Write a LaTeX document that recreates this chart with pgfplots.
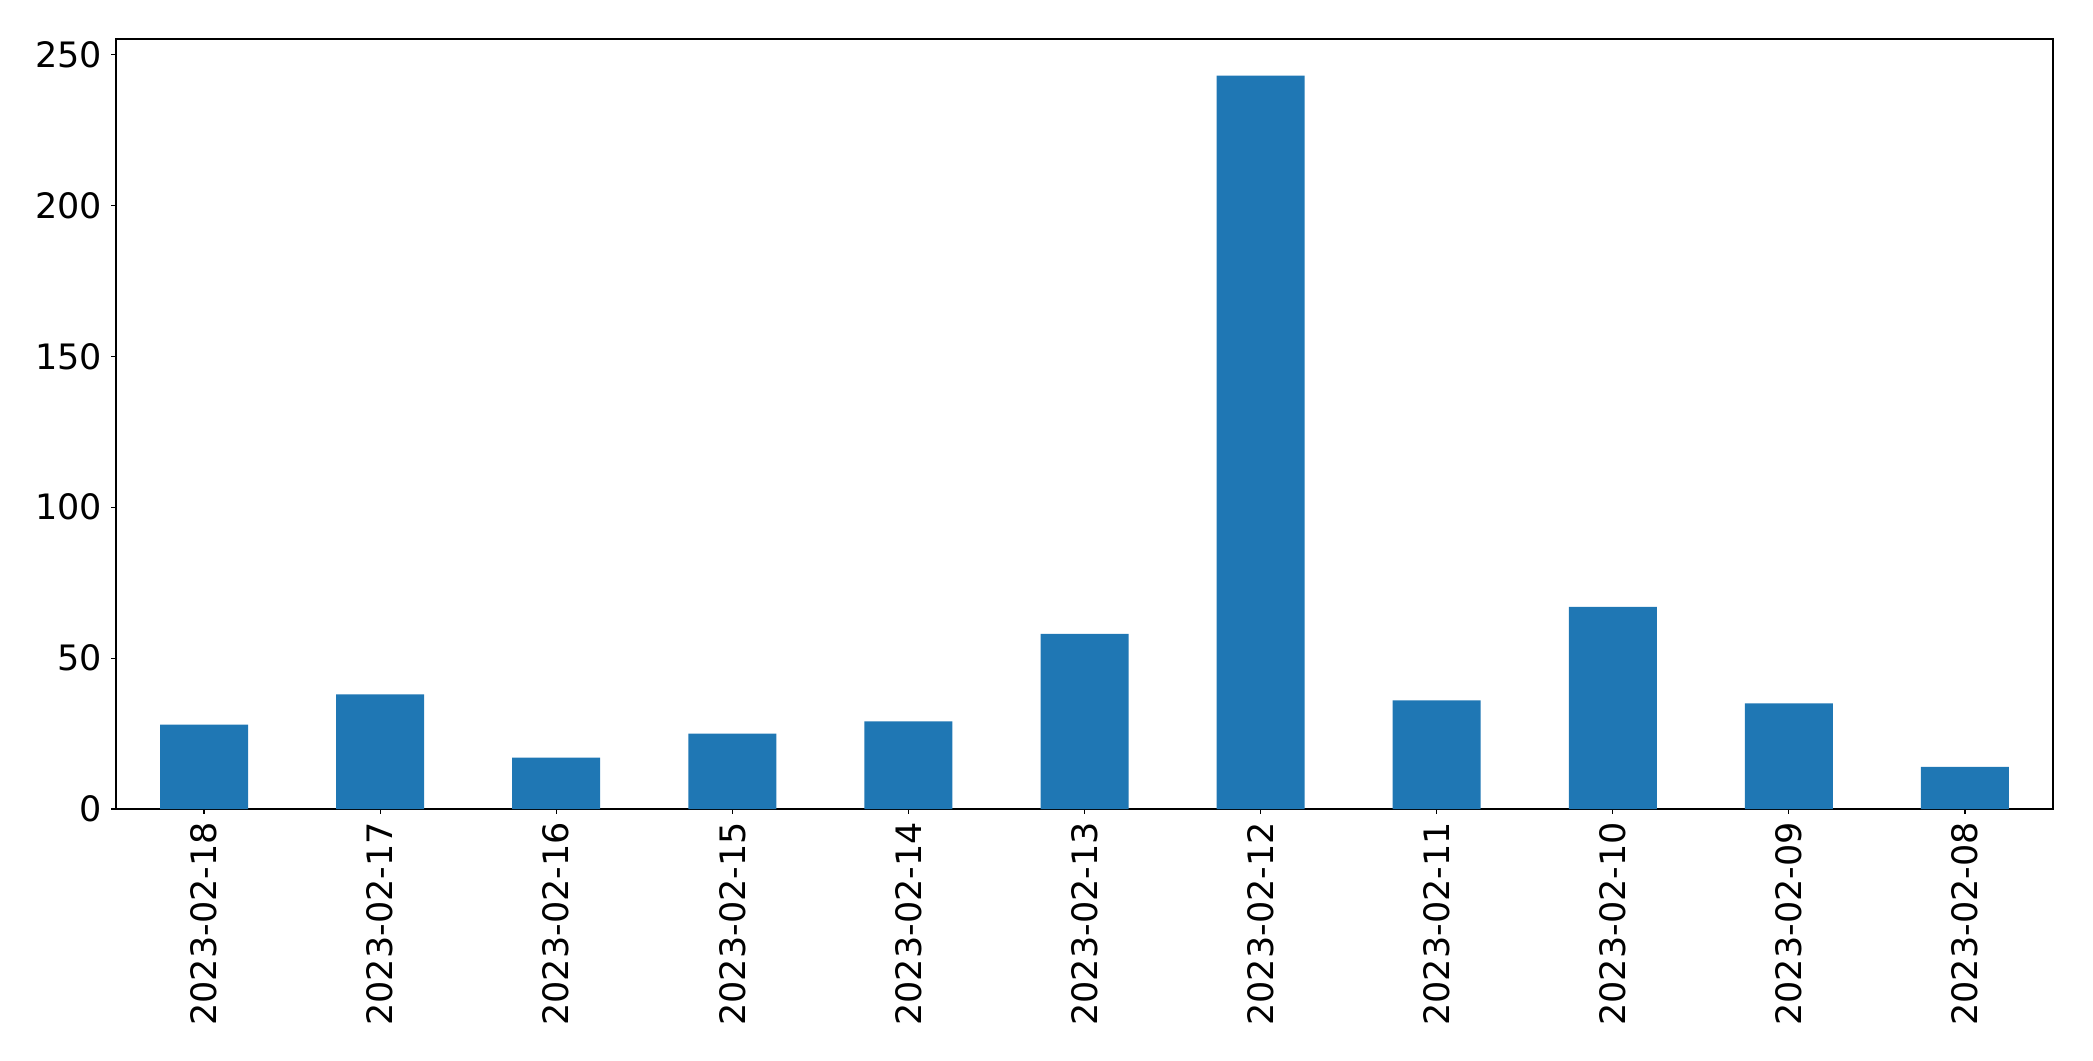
\documentclass[border=0pt]{standalone}
\usepackage{fontspec}
\setmainfont{DejaVu Sans}
\usepackage{pgfplots}
\pgfplotsset{compat=1.18}
\definecolor{mplblue}{HTML}{1F77B4}

\begin{document}
\fontsize{17.5bp}{20bp}\selectfont
\begin{tikzpicture}
\begin{axis}[
    at={(0,0)}, anchor=south west,
    scale only axis,
    width=968.5bp, height=385bp,
    xmin=-0.5, xmax=10.5,
    ymin=0, ymax=255.15,
    ybar, bar width=44bp,
    xtick={0,...,10},
    xticklabels={2023-02-18,2023-02-17,2023-02-16,2023-02-15,2023-02-14,2023-02-13,2023-02-12,2023-02-11,2023-02-10,2023-02-09,2023-02-08},
    ytick={0,50,100,150,200,250},
    xticklabel style={yshift=-4bp, rotate=90, anchor=east, inner sep=0pt},
    yticklabel style={inner sep=0pt, xshift=-4.3bp},
    tick align=outside,
    major tick length=2.4bp,
    tick style={black, line width=0.6bp},
    xtick pos=bottom, ytick pos=left,
    axis line style={line width=0.6bp},
    /pgf/number format/assume math mode=true,
    ticklabel style={font=\fontsize{17.5bp}{20bp}\selectfont},
]
\addplot[fill=mplblue, draw=none] coordinates {
    (0,28) (1,38) (2,17) (3,25) (4,29) (5,58)
    (6,243) (7,36) (8,67) (9,35) (10,14)
};
\end{axis}
\useasboundingbox (-58bp,-126bp) rectangle (988.5bp,404.5bp);
\end{tikzpicture}
\end{document}
